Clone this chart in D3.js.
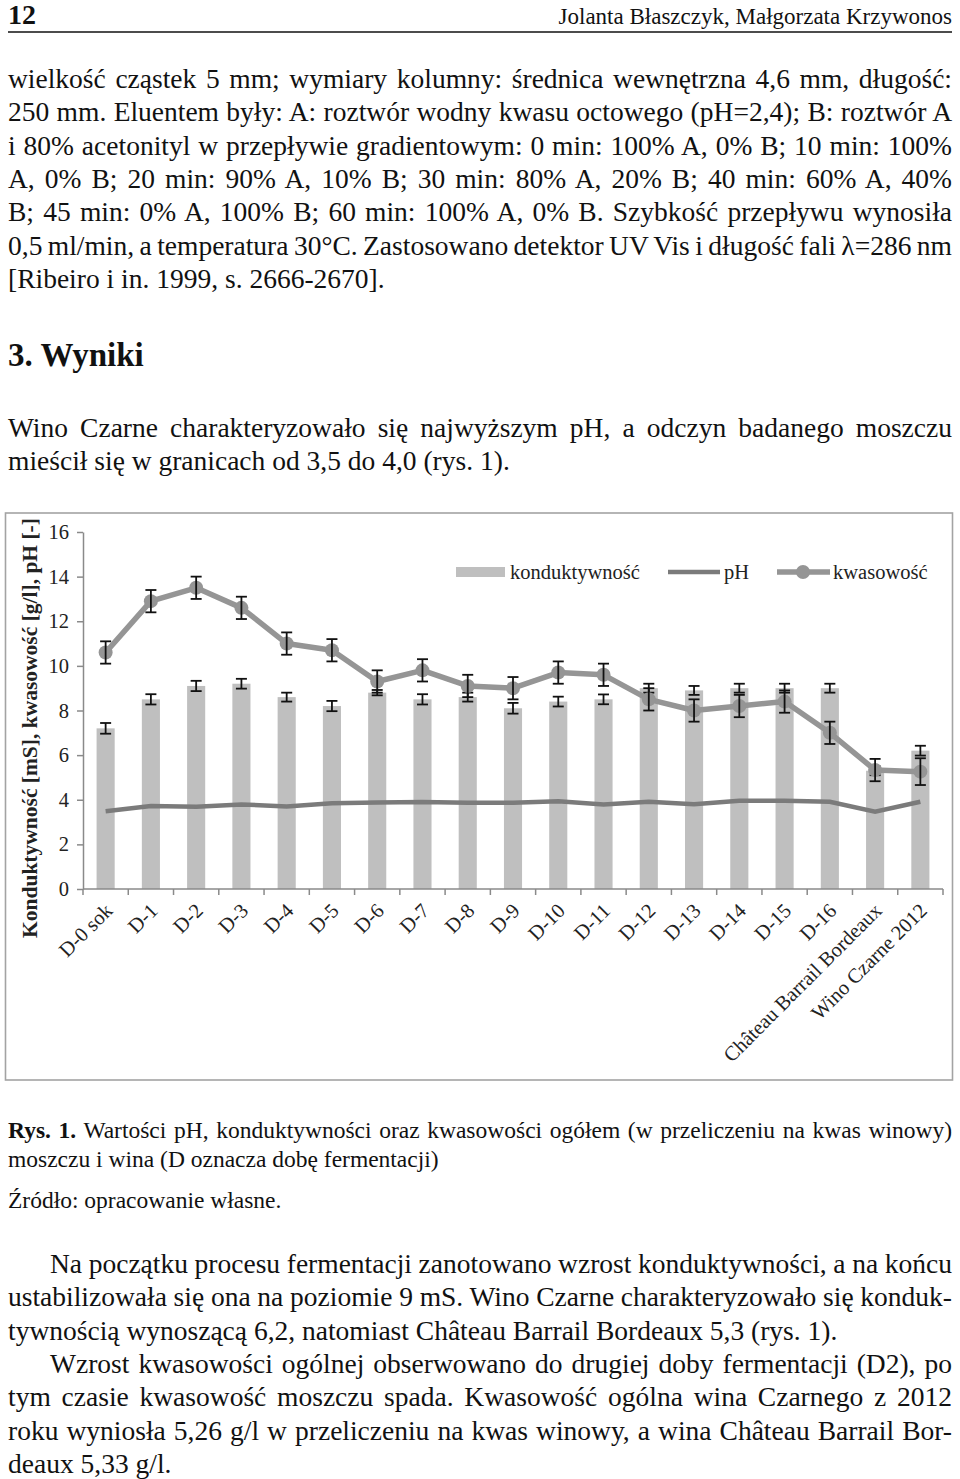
<!DOCTYPE html>
<html>
<head>
<meta charset="utf-8">
<script src="https://cdn.jsdelivr.net/npm/d3@7"></script>
<style>
  html, body { margin: 0; padding: 0; background: #fff; }
  svg { display: block; }
</style>
</head>
<body>
<svg id="page"></svg>
<script>
// ---- chart data ----
let categories = ['D-0 sok', 'D-1', 'D-2', 'D-3', 'D-4', 'D-5', 'D-6', 'D-7', 'D-8', 'D-9',
  'D-10', 'D-11', 'D-12', 'D-13', 'D-14', 'D-15', 'D-16', 'Château Barrail Bordeaux', 'Wino Czarne 2012']
let konduktywnosc = [7.2, 8.5, 9.1, 9.2, 8.6, 8.2, 8.8, 8.5, 8.6, 8.1, 8.4, 8.5, 9.0, 8.9, 9.0, 9.0, 9.0, 5.3, 6.2]
let konduktywnoscErr = [0.24, 0.23, 0.23, 0.22, 0.2, 0.23, 0.12, 0.23, 0.2, 0.24, 0.22, 0.22, 0.2, 0.2, 0.2, 0.2, 0.2, 0.2, 0.22]
let kwasowosc = [10.6, 12.9, 13.5, 12.6, 11.0, 10.7, 9.3, 9.8, 9.1, 9.0, 9.7, 9.6, 8.5, 8.0, 8.2, 8.4, 7.0, 5.33, 5.26]
let kwasowoscErr = [0.5, 0.5, 0.5, 0.5, 0.5, 0.5, 0.5, 0.5, 0.5, 0.5, 0.5, 0.5, 0.5, 0.5, 0.5, 0.5, 0.5, 0.5, 0.6]
let ph = [3.48, 3.72, 3.69, 3.79, 3.7, 3.84, 3.88, 3.9, 3.87, 3.87, 3.93, 3.79, 3.91, 3.8, 3.95, 3.95, 3.91, 3.46, 3.91]
let yTicks = [0, 2, 4, 6, 8, 10, 12, 14, 16]
let legendNames = ['konduktywność', 'pH', 'kwasowość']
let yTitle = 'Konduktywność [mS], kwasowość [g/l], pH [-]'

// ---- page text ----
let headerLeft = '12'
let headerRight = 'Jolanta Błaszczyk, Małgorzata Krzywonos'
let para1 = [
  'wielkość cząstek 5 mm; wymiary kolumny: średnica wewnętrzna 4,6 mm, długość:',
  '250 mm. Eluentem były: A: roztwór wodny kwasu octowego (pH=2,4); B: roztwór A',
  'i 80% acetonityl w przepływie gradientowym: 0 min: 100% A, 0% B; 10 min: 100%',
  'A, 0% B; 20 min: 90% A, 10% B; 30 min: 80% A, 20% B; 40 min: 60% A, 40%',
  'B; 45 min: 0% A, 100% B; 60 min: 100% A, 0% B. Szybkość przepływu wynosiła',
  '0,5 ml/min, a temperatura 30°C. Zastosowano detektor UV Vis i długość fali λ=286 nm',
  '[Ribeiro i in. 1999, s. 2666-2670].'
]
let sectionTitle = '3. Wyniki'
let para2 = [
  'Wino Czarne charakteryzowało się najwyższym pH, a odczyn badanego moszczu',
  'mieścił się w granicach od 3,5 do 4,0 (rys. 1).'
]
let captionLabel = 'Rys. 1.'
let caption = [
  ' Wartości pH, konduktywności oraz kwasowości ogółem (w przeliczeniu na kwas winowy)',
  'moszczu i wina (D oznacza dobę fermentacji)'
]
let source = 'Źródło: opracowanie własne.'
let para3 = [
  'Na początku procesu fermentacji zanotowano wzrost konduktywności, a na końcu',
  'ustabilizowała się ona na poziomie 9 mS. Wino Czarne charakteryzowało się konduk-',
  'tywnością wynoszącą 6,2, natomiast Château Barrail Bordeaux 5,3 (rys. 1).'
]
let para4 = [
  'Wzrost kwasowości ogólnej obserwowano do drugiej doby fermentacji (D2), po',
  'tym czasie kwasowość moszczu spada. Kwasowość ogólna wina Czarnego z 2012',
  'roku wyniosła 5,26 g/l w przeliczeniu na kwas winowy, a wina Château Barrail Bor-',
  'deaux 5,33 g/l.'
]

let width = 960
let height = 1479
let font = "'Liberation Serif', 'Times New Roman', serif"
let left = 8
let right = 952
let bodySize = 27.5

let svg = d3.select('#page').attr('width', width).attr('height', height)
svg.append('rect').attr('width', width).attr('height', height).attr('fill', '#fff')

// stretch or squeeze a text line to fill the column, like justified print
let justify = (sel, target) => {
  let node = sel.node()
  let natural = node.getComputedTextLength()
  let spaces = (node.textContent.match(/ /g) || []).length
  let ws = spaces ? (target - natural) / spaces : 0
  if (spaces && ws >= -3) {
    sel.style('word-spacing', ws + 'px')
  } else {
    // too long even with tight spaces: tighten spaces, then letters
    let tight = spaces ? -3 : 0
    sel.style('word-spacing', tight + 'px')
    let rest = natural + tight * spaces - target
    let chars = node.textContent.length
    sel.style('letter-spacing', (-rest / chars) + 'px')
  }
}

let drawParagraph = (lines, y0, lh, indent) => {
  lines.forEach((line, i) => {
    let x = left + (i === 0 ? indent : 0)
    let t = svg.append('text')
      .attr('x', x).attr('y', y0 + i * lh)
      .attr('font-family', font).attr('font-size', bodySize).attr('fill', '#111')
      .text(line)
    if (i < lines.length - 1) justify(t, right - x)
  })
}

// header
svg.append('text').attr('x', left).attr('y', 24)
  .attr('font-family', font).attr('font-size', 28).attr('font-weight', 'bold').attr('fill', '#111')
  .text(headerLeft)
svg.append('text').attr('x', right).attr('y', 24).attr('text-anchor', 'end')
  .attr('font-family', font).attr('font-size', 23).attr('fill', '#111')
  .text(headerRight)
svg.append('line').attr('x1', left).attr('x2', right).attr('y1', 32).attr('y2', 32)
  .attr('stroke', '#111').attr('stroke-width', 1.3)

drawParagraph(para1, 88, 33.3, 0)

svg.append('text').attr('x', left).attr('y', 366)
  .attr('font-family', font).attr('font-size', 33).attr('font-weight', 'bold').attr('fill', '#111')
  .text(sectionTitle)

drawParagraph(para2, 437, 33, 0)

// ---- chart ----
let frame = { x: 5.5, y: 513, w: 947, h: 567 }
svg.append('rect')
  .attr('x', frame.x).attr('y', frame.y).attr('width', frame.w).attr('height', frame.h)
  .attr('fill', '#fff').attr('stroke', '#a3a3a3').attr('stroke-width', 1.6)

let plot = { left: 83, right: 943, top: 532, bottom: 889 }

let xScale = d3.scaleBand()
  .domain(categories)
  .range([plot.left, plot.right])
  .paddingInner(0.6)
  .paddingOuter(0.3)

let yScale = d3.scaleLinear()
  .domain([0, 16])
  .range([plot.bottom, plot.top])

let cx = (c) => xScale(c) + xScale.bandwidth() / 2
let step = xScale.step()

let chart = svg.append('g')

// bars
chart.selectAll('rect.bar')
  .data(categories)
  .enter()
  .append('rect')
  .attr('class', 'bar')
  .attr('x', (c) => xScale(c))
  .attr('width', xScale.bandwidth())
  .attr('y', (c, i) => yScale(konduktywnosc[i]))
  .attr('height', (c, i) => yScale(0) - yScale(konduktywnosc[i]))
  .attr('fill', '#bfbfbf')

// y axis
let yAxis = chart.append('g')
  .attr('transform', 'translate(' + plot.left + ',0)')
  .call(d3.axisLeft(yScale).tickValues(yTicks).tickSize(6).tickPadding(8).tickSizeOuter(0))
yAxis.select('.domain').attr('stroke', '#8a8a8a').attr('stroke-width', 1.5)
yAxis.selectAll('.tick line').attr('stroke', '#8a8a8a').attr('stroke-width', 1.5)
yAxis.selectAll('.tick text')
  .attr('font-family', font).attr('font-size', 20.5).attr('fill', '#222')

// x axis: line with ticks on category boundaries
let xBounds = categories.map((c) => cx(c) - step / 2).concat([cx(categories[categories.length - 1]) + step / 2])
chart.append('line')
  .attr('x1', plot.left).attr('x2', plot.right)
  .attr('y1', yScale(0)).attr('y2', yScale(0))
  .attr('stroke', '#8a8a8a').attr('stroke-width', 1.5)
chart.selectAll('line.xtick')
  .data(xBounds)
  .enter()
  .append('line')
  .attr('class', 'xtick')
  .attr('x1', (d) => d).attr('x2', (d) => d)
  .attr('y1', yScale(0)).attr('y2', yScale(0) + 6)
  .attr('stroke', '#8a8a8a').attr('stroke-width', 1.5)

chart.selectAll('text.xlab')
  .data(categories)
  .enter()
  .append('text')
  .attr('class', 'xlab')
  .attr('transform', (c) => 'translate(' + (cx(c) + 8) + ',' + (yScale(0) + 23) + ') rotate(-45)')
  .attr('text-anchor', 'end')
  .attr('font-family', font).attr('font-size', 20.5).attr('fill', '#222')
  .text((c) => c)

// y title
chart.append('text')
  .attr('transform', 'translate(37,728) rotate(-90)')
  .attr('text-anchor', 'middle')
  .attr('font-family', font).attr('font-size', 21.5).attr('font-weight', 'bold').attr('fill', '#222')
  .text(yTitle)

// error bars
let errorBars = (values, errs) => {
  let g = chart.append('g').attr('stroke', '#111').attr('stroke-width', 1.8).attr('fill', 'none')
  categories.forEach((c, i) => {
    let x = cx(c)
    let y1 = yScale(values[i] - errs[i])
    let y2 = yScale(values[i] + errs[i])
    g.append('line').attr('x1', x).attr('x2', x).attr('y1', y1).attr('y2', y2)
    g.append('line').attr('x1', x - 5.5).attr('x2', x + 5.5).attr('y1', y1).attr('y2', y1)
    g.append('line').attr('x1', x - 5.5).attr('x2', x + 5.5).attr('y1', y2).attr('y2', y2)
  })
}
errorBars(konduktywnosc, konduktywnoscErr)

// pH line
let line = d3.line()
  .x((d, i) => cx(categories[i]))
  .y((d) => yScale(d))

chart.append('path')
  .datum(ph)
  .attr('d', line)
  .attr('fill', 'none')
  .attr('stroke', '#7b7b7b')
  .attr('stroke-width', 4.5)

// kwasowość line + markers
chart.append('path')
  .datum(kwasowosc)
  .attr('d', line)
  .attr('fill', 'none')
  .attr('stroke', '#959595')
  .attr('stroke-width', 5.5)
  .attr('stroke-linejoin', 'round')

chart.selectAll('circle.kw')
  .data(kwasowosc)
  .enter()
  .append('circle')
  .attr('class', 'kw')
  .attr('cx', (d, i) => cx(categories[i]))
  .attr('cy', (d) => yScale(d))
  .attr('r', 7)
  .attr('fill', '#959595')

errorBars(kwasowosc, kwasowoscErr)

// legend
let legend = chart.append('g').attr('font-family', font).attr('font-size', 20.5).attr('fill', '#222')
let ly = 572
legend.append('rect').attr('x', 456).attr('y', ly - 5).attr('width', 49).attr('height', 10).attr('fill', '#bfbfbf')
legend.append('text').attr('x', 510).attr('y', ly + 7).text(legendNames[0])
legend.append('line').attr('x1', 668).attr('x2', 720).attr('y1', ly).attr('y2', ly)
  .attr('stroke', '#7b7b7b').attr('stroke-width', 4.5)
legend.append('text').attr('x', 724).attr('y', ly + 7).text(legendNames[1])
legend.append('line').attr('x1', 777).attr('x2', 830).attr('y1', ly).attr('y2', ly)
  .attr('stroke', '#959595').attr('stroke-width', 5.5)
legend.append('circle').attr('cx', 803).attr('cy', ly).attr('r', 7).attr('fill', '#959595')
legend.append('text').attr('x', 833).attr('y', ly + 7).text(legendNames[2])

// ---- caption and closing text ----
let cap1 = svg.append('text').attr('x', left).attr('y', 1138)
  .attr('font-family', font).attr('font-size', 23.5).attr('fill', '#111')
cap1.append('tspan').attr('font-weight', 'bold').text(captionLabel)
cap1.append('tspan').text(caption[0])
justify(cap1, right - left)
svg.append('text').attr('x', left).attr('y', 1167)
  .attr('font-family', font).attr('font-size', 23.5).attr('fill', '#111')
  .text(caption[1])
svg.append('text').attr('x', left).attr('y', 1208)
  .attr('font-family', font).attr('font-size', 23.5).attr('fill', '#111')
  .text(source)

drawParagraph(para3, 1273, 33.3, 42)
drawParagraph(para4, 1373, 33.3, 42)
</script>
</body>
</html>
